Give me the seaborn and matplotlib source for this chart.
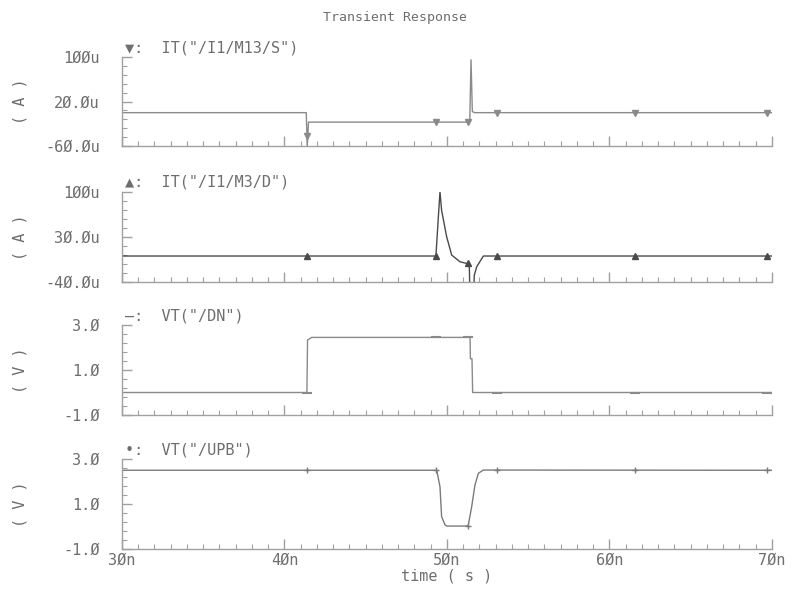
import numpy as np
import pandas as pd
import matplotlib
matplotlib.use("Agg")
import matplotlib.pyplot as plt
import seaborn as sns
from matplotlib.ticker import AutoMinorLocator

# ---- data (time in ns) ----
t_m13 = [30, 41.34, 41.40, 41.48, 51.40, 51.48, 51.56, 51.70, 70]
i_m13 = [0, 0, -62, -17, -17, 95, 2, 0, 0]          # uA

t_m3 = [30, 49.32, 49.47, 49.57, 49.67, 49.98, 50.29, 50.80, 51.21, 51.37, 51.40,
        51.66, 51.68, 51.83, 52.24, 70]
i_m3 = [0, 0, 61, 100, 71, 30, 1.5, -9, -11.5, -11.5, -45, -45, -30, -16.7, 0, 0]  # uA

t_dn = [30, 41.38, 41.42, 41.67, 51.42, 51.44, 51.54, 51.58, 70]
v_dn = [0, 0, 2.33, 2.45, 2.45, 1.5, 1.5, 0, 0]      # V

t_upb = [30, 49.37, 49.57, 49.67, 49.88, 50.0, 51.30, 51.52, 51.72, 51.93, 52.23, 70]
v_upb = [2.5, 2.5, 1.77, 0.44, 0.07, 0.02, 0.02, 0.88, 1.84, 2.36, 2.51, 2.5]  # V

marker_times = [41.38, 49.3, 51.3, 53.1, 61.6, 69.7]

titles = ['\u25bc:  IT("/I1/M13/S")', '\u25b2:  IT("/I1/M3/D")',
          '\u2014:  VT("/DN")', '\u2022:  VT("/UPB")']
ylabels = ["( A )", "( A )", "( V )", "( V )"]
ylims = [(-60, 100), (-40, 100), (-1, 3), (-1, 3)]
yticks = [[-60, 20, 100], [-40, 30, 100], [-1, 1, 3], [-1, 1, 3]]
yticklabels = [["-6\u00d8.\u00d8u", "2\u00d8.\u00d8u", "1\u00d8\u00d8u"],
               ["-4\u00d8.\u00d8u", "3\u00d8.\u00d8u", "1\u00d8\u00d8u"],
               ["-1.\u00d8", "1.\u00d8", "3.\u00d8"],
               ["-1.\u00d8", "1.\u00d8", "3.\u00d8"]]
xticks = [30, 40, 50, 60, 70]
xticklabels = ["3\u00d8n", "4\u00d8n", "5\u00d8n", "6\u00d8n", "7\u00d8n"]

series = [(t_m13, i_m13), (t_m3, i_m3), (t_dn, v_dn), (t_upb, v_upb)]
markers = ["v", "^", "_", "+"]
msizes = [4, 4, 7, 4]
line_colors = ["#8a8a8a", "#4a4a4a", "#8a8a8a", "#7a7a7a"]

sns.set_theme(style="white")
plt.rcParams["font.family"] = ["DejaVu Sans Mono", "DejaVu Sans"]
TXT = "#6e6e6e"
AX = "#a0a0a0"

fig = plt.figure(figsize=(7.93, 5.90), dpi=100)
positions = [
    [0.1538, 0.7525, 0.8197, 0.1508],
    [0.1538, 0.5225, 0.8197, 0.1525],
    [0.1538, 0.2966, 0.8197, 0.1525],
    [0.1538, 0.0695, 0.8197, 0.1525],
]

for k in range(4):
    ax = fig.add_axes(positions[k])
    t, v = series[k]
    df = pd.DataFrame({"t": t, "v": v})
    sns.lineplot(data=df, x="t", y="v", estimator=None, sort=False, ax=ax,
                 color=line_colors[k], linewidth=1.0)
    mv = np.interp(marker_times, t, v)
    ax.plot(marker_times, mv, linestyle="none", marker=markers[k], markersize=msizes[k],
            color=line_colors[k], markeredgewidth=1.5 if k == 2 else 1.0)
    ax.set_xlim(30, 70)
    ax.set_ylim(*ylims[k])
    for s in ["top", "right"]:
        ax.spines[s].set_visible(False)
    for s in ["left", "bottom"]:
        ax.spines[s].set_color(AX)
        ax.spines[s].set_linewidth(1.0)
    ax.set_yticks(yticks[k])
    ax.set_yticklabels(yticklabels[k])
    ax.set_xticks(xticks)
    ax.xaxis.set_minor_locator(AutoMinorLocator(10))
    ax.yaxis.set_minor_locator(AutoMinorLocator(5))
    ax.tick_params(axis="both", which="both", bottom=True, left=True,
                   top=False, right=False)
    ax.tick_params(axis="both", which="major", direction="in", length=7,
                   width=1.0, color=AX, labelcolor=TXT, labelsize=11)
    ax.tick_params(axis="both", which="minor", direction="in", length=3.5,
                   width=0.8, color=AX)
    ax.tick_params(axis="y", which="major", pad=16)
    if k == 3:
        ax.set_xticklabels(xticklabels)
        ax.tick_params(axis="x", which="major", pad=3)
        ax.set_xlabel("time ( s )", color=TXT, fontsize=11, labelpad=0)
    else:
        ax.set_xticklabels([])
        ax.set_xlabel("")
    ax.set_ylabel(ylabels[k], color=TXT, fontsize=11)
    ax.yaxis.set_label_coords(-0.145, 0.5)
    ax.text(0.005, 1.02, titles[k], transform=ax.transAxes, ha="left", va="bottom",
            color=TXT, fontsize=11)

fig.text(0.498, 0.971, "Transient Response", ha="center", va="center",
         color=TXT, fontsize=9.5)

fig.savefig("out.png", dpi=100)
